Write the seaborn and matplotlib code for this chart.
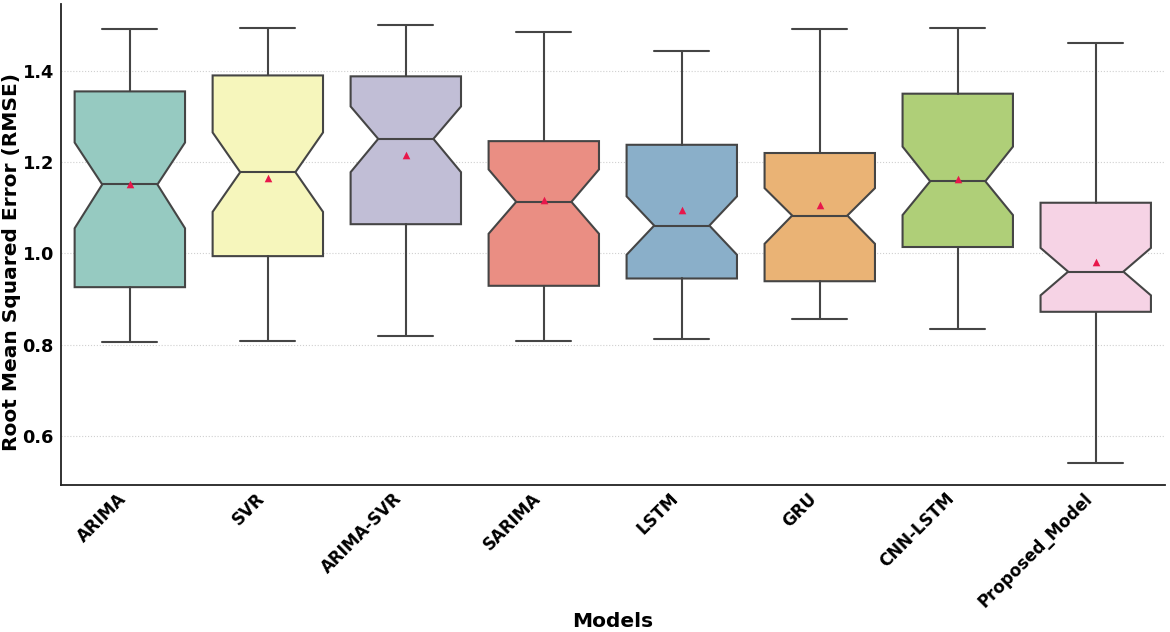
import numpy as np
import seaborn as sns
import matplotlib
matplotlib.use("Agg")
import matplotlib.pyplot as plt

# Box statistics
models = ["ARIMA", "SVR", "ARIMA-SVR", "SARIMA", "LSTM", "GRU", "CNN-LSTM", "Proposed_Model"]
whisker_low = [0.806, 0.807, 0.818, 0.809, 0.812, 0.856, 0.835, 0.541]
q1 = [0.926, 0.994, 1.064, 0.929, 0.945, 0.939, 1.014, 0.872]
median = [1.151, 1.178, 1.251, 1.113, 1.061, 1.083, 1.158, 0.960]
q3 = [1.355, 1.390, 1.388, 1.246, 1.238, 1.220, 1.350, 1.111]
whisker_high = [1.491, 1.495, 1.501, 1.486, 1.444, 1.491, 1.493, 1.460]
mean_rmse = [1.153, 1.165, 1.216, 1.117, 1.095, 1.107, 1.163, 0.982]
notch_low = [1.055, 1.091, 1.178, 1.043, 0.997, 1.021, 1.084, 0.908]
notch_high = [1.243, 1.265, 1.322, 1.184, 1.125, 1.143, 1.234, 1.012]

sns.set_style("white")
plt.rcParams["font.family"] = ["DejaVu Sans"]
plt.rcParams["text.color"] = "black"
plt.rcParams["axes.labelcolor"] = "black"
plt.rcParams["xtick.color"] = "black"
plt.rcParams["ytick.color"] = "black"

palette = [sns.desaturate(c, 0.75) for c in sns.color_palette("Set3", len(models))]
line_col = "#454545"

fig, ax = plt.subplots(figsize=(11.7, 6.32), dpi=100)
fig.subplots_adjust(left=0.052, right=0.9955, top=0.994, bottom=0.233)

stats = []
for i, name in enumerate(models):
    stats.append({
        "label": name,
        "whislo": whisker_low[i],
        "q1": q1[i],
        "med": median[i],
        "q3": q3[i],
        "whishi": whisker_high[i],
        "mean": mean_rmse[i],
        "cilo": notch_low[i],
        "cihi": notch_high[i],
        "fliers": [],
    })

boxes = ax.bxp(
    stats, positions=range(len(models)), widths=0.8, shownotches=True,
    patch_artist=True, showfliers=False, showmeans=False,
    boxprops=dict(edgecolor=line_col, linewidth=1.5),
    whiskerprops=dict(color=line_col, linewidth=1.5),
    capprops=dict(color=line_col, linewidth=1.5),
    medianprops=dict(color=line_col, linewidth=1.5),
)
for patch, col in zip(boxes["boxes"], palette):
    patch.set_facecolor(col)

sns.scatterplot(x=list(range(len(models))), y=mean_rmse, marker="^",
                color="#e8174b", s=30, linewidth=0, zorder=5, ax=ax)

ax.set_xlim(-0.5, len(models) - 0.5)
ax.set_ylim(0.493, 1.547)
ax.set_yticks([0.6, 0.8, 1.0, 1.2, 1.4])
ax.set_xticks(range(len(models)))
ax.set_xticklabels(models, rotation=45, ha="right", fontsize=12, fontweight="bold")
for lab in ax.get_yticklabels():
    lab.set_fontsize(12.8)
    lab.set_fontweight("bold")
ax.tick_params(axis="x", direction="in", length=4, color=line_col)
ax.tick_params(axis="y", length=0, pad=5)
ax.yaxis.grid(True, linestyle=":", color="#d0d0d0", linewidth=0.8)
ax.set_axisbelow(True)

ax.set_xlabel("Models", fontsize=14.5, fontweight="bold")
ax.xaxis.set_label_coords(0.5, -0.265)
ax.set_ylabel("Root Mean Squared Error (RMSE)", fontsize=14.5, fontweight="bold")
ax.yaxis.set_label_coords(-0.0365, 0.464)

sns.despine(ax=ax)
for side in ["left", "bottom"]:
    ax.spines[side].set_color("#222222")
    ax.spines[side].set_linewidth(1.3)

fig.savefig("out.png", dpi=100)
